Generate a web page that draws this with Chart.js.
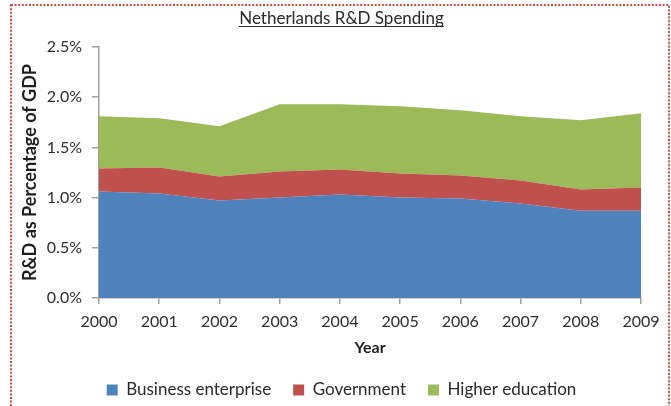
<!DOCTYPE html>
<html>
<head>
<meta charset="utf-8">
<script src="https://cdn.jsdelivr.net/npm/chart.js@4/dist/chart.umd.min.js"></script>
<style>
html,body{margin:0;padding:0;background:#fff;}
canvas{display:block;}
</style>
</head>
<body>
<canvas id="c" width="671" height="406"></canvas>
<script>
// ---- data ----
const years = ['2000','2001','2002','2003','2004','2005','2006','2007','2008','2009'];
const businessEnterprise = [1.06, 1.04, 0.97, 1.00, 1.03, 1.00, 0.99, 0.94, 0.87, 0.87];
const government         = [0.23, 0.26, 0.24, 0.26, 0.25, 0.24, 0.23, 0.23, 0.21, 0.23];
const higherEducation    = [0.52, 0.49, 0.50, 0.67, 0.65, 0.67, 0.65, 0.64, 0.69, 0.74];
const yTickValues = [0, 0.5, 1.0, 1.5, 2.0, 2.5];
const seriesNames = ['Business enterprise', 'Government', 'Higher education'];
const chartTitle = 'Netherlands R&D Spending';
const xTitle = 'Year';
const yTitle = 'R&D as Percentage of GDP';

const FONT = 'Lato, "Open Sans", sans-serif';
const AXIS_COLOR = '#a0a0a0';

const frame = {
  id: 'frame',
  afterDraw(chart) {
    const ctx = chart.ctx;
    ctx.save();
    // dotted border
    ctx.strokeStyle = '#cc4a47';
    ctx.lineWidth = 2;
    ctx.setLineDash([2, 1.6]);
    ctx.strokeRect(11, 5, 658, 520);
    ctx.setLineDash([]);
    // title underline
    const tb = chart.titleBlock;
    const f = Chart.helpers.toFont(tb.options.font);
    ctx.font = f.string;
    const w = ctx.measureText(chartTitle).width;
    const cx = (tb.left + tb.right) / 2;
    const cy = tb.top + Chart.helpers.toPadding(tb.options.padding).top + f.lineHeight / 2;
    ctx.strokeStyle = '#2a2a2a';
    ctx.lineWidth = 1;
    ctx.beginPath();
    ctx.moveTo(Math.round(cx - w / 2), Math.round(cy + 8) + 0.5);
    ctx.lineTo(Math.round(cx + w / 2), Math.round(cy + 8) + 0.5);
    ctx.stroke();
    ctx.restore();
  }
};

function build() {
  Chart.defaults.font.family = FONT;
  new Chart(document.getElementById('c'), {
    type: 'line',
    data: {
      labels: years,
      datasets: [
        { label: seriesNames[0], data: businessEnterprise, backgroundColor: '#4f81bd', borderColor: '#4f81bd', fill: 'origin' },
        { label: seriesNames[1], data: government, backgroundColor: '#c0504d', borderColor: '#c0504d', fill: '-1' },
        { label: seriesNames[2], data: higherEducation, backgroundColor: '#9bbb59', borderColor: '#9bbb59', fill: '-1' }
      ]
    },
    options: {
      responsive: false,
      animation: false,
      devicePixelRatio: 1,
      elements: { line: { borderWidth: 0, tension: 0 }, point: { radius: 0, hoverRadius: 0 } },
      layout: { padding: { left: 12, right: 0, top: 0, bottom: -2.5 } },
      plugins: {
        tooltip: { enabled: false },
        title: {
          display: true, text: chartTitle, color: '#2a2a2a',
          font: { size: 17, weight: 'normal' },
          padding: { top: 8, bottom: 18.6 }
        },
        legend: {
          position: 'bottom',
          labels: { boxWidth: 11, boxHeight: 11, padding: 22, color: '#2a2a2a', font: { size: 17 } }
        }
      },
      scales: {
        x: {
          type: 'category',
          offset: false,
          grid: { display: true, drawOnChartArea: false, drawTicks: true, tickLength: 6, color: AXIS_COLOR, lineWidth: 1.5 },
          border: { display: true, color: AXIS_COLOR, width: 1.5 },
          ticks: { color: '#2e2e2e', font: { size: 16 }, padding: 8, maxRotation: 0, autoSkip: false },
          title: { display: true, text: xTitle, color: '#1e1e1e', font: { size: 16, weight: 'bold' }, padding: { top: 0, bottom: 1.9 } },
          afterFit(s) { s.height = 61.5; }
        },
        y: {
          stacked: true,
          min: 0, max: 2.5,
          afterBuildTicks(s) { s.ticks = yTickValues.map(v => ({ value: v })); },
          grid: { display: true, drawOnChartArea: false, drawTicks: true, tickLength: 7, color: AXIS_COLOR, lineWidth: 1.5 },
          border: { display: true, color: AXIS_COLOR, width: 1.5 },
          ticks: { color: '#2e2e2e', font: { size: 16 }, padding: 10, callback: v => Number(v).toFixed(1) + '%' },
          title: { display: true, text: yTitle, color: '#1e1e1e', font: { size: 18, weight: 'bold' }, padding: { top: 7.2, bottom: 0 } },
          afterFit(s) { s.width = 87; }
        },
        yR: {
          position: 'right',
          display: true,
          grid: { display: false },
          border: { display: false },
          ticks: { display: false },
          afterFit(s) { s.width = 30; }
        }
      }
    },
    plugins: [frame]
  });
}

if (document.fonts && document.fonts.load) {
  Promise.all([
    document.fonts.load('16px Lato'),
    document.fonts.load('bold 16px Lato')
  ]).then(build, build);
} else {
  build();
}
</script>
</body>
</html>
